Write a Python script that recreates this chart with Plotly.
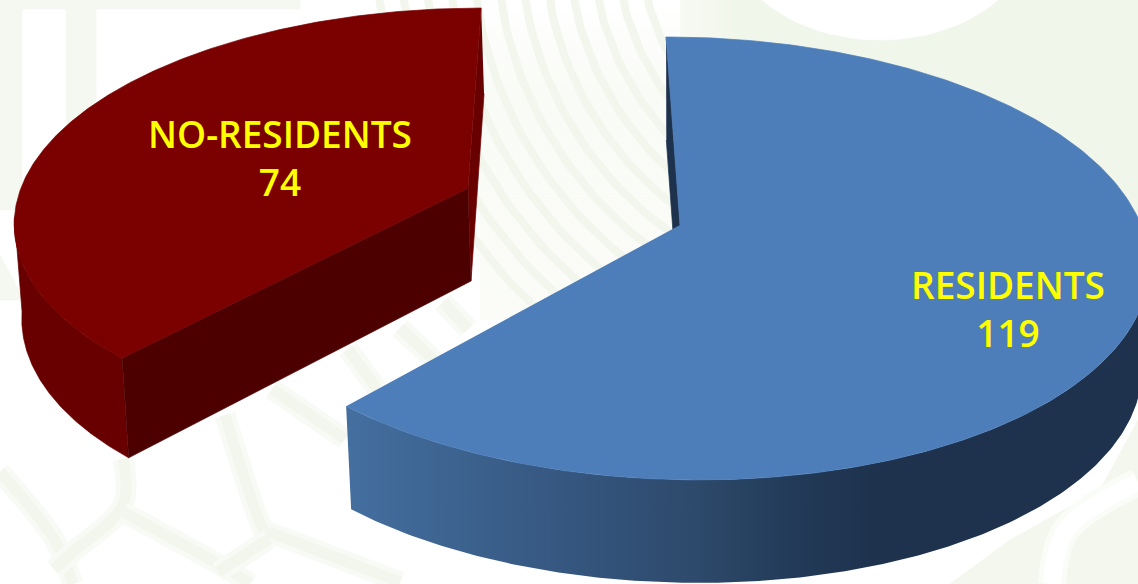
import numpy as np
import plotly.graph_objects as go

# Chart data
categories = ["RESIDENTS", "NO-RESIDENTS"]
values = [119, 74]

START_DEG = 0.0
TOP_BLUE, TOP_RED = "#4d7eba", "#7b0000"
PALE = "#f2f6ec"
HALO = "#f8faf5"
TEXT = "#ffff00"

# Perspective parameters for each exploded slice of the tilted disc
SLICES = {
    "RESIDENTS": dict(x0=680, y0=225, a=461, b=216.4, k=0.151, lean=-16,
                      dx=0, dy=103, sx=0.985, sy=1.0),
    "NO-RESIDENTS": dict(x0=468, y0=188, a=447, b=205, k=0.139, lean=15,
                         dx=3, dy=93, sx=0.99, sy=1.04),
}


def project(p, deg, bottom=False):
    """Map a rim angle (clockwise from the far side) on to the page."""
    t = np.radians(deg)
    u, v = np.sin(t), np.cos(t)
    w = 1 + p["k"] * v
    sx = p["sx"] if bottom else 1.0
    sy = p["sy"] if bottom else 1.0
    x = p["x0"] + sx * (p["a"] * u + p["lean"] * v) / w + (p["dx"] if bottom else 0)
    y = p["y0"] - sy * p["b"] * v / w + (p["dy"] if bottom else 0)
    return x, y


def apex(p, bottom=False):
    if bottom:
        return p["x0"] + p["dx"], p["y0"] + p["dy"]
    return p["x0"], p["y0"]


def poly(xs, ys, color=None, **kw):
    if color:
        style = dict(fillcolor=color, line=dict(width=0.7, color=color))
    else:
        style = dict(line=dict(width=0))
    return go.Scatter(x=list(xs), y=list(ys), mode="lines", fill="toself",
                      hoverinfo="skip", showlegend=False, **style, **kw)


def band(pts, width=11, color=PALE, halo=HALO):
    """A soft watermark stroke: a wide faint line under a narrower one."""
    xs, ys = zip(*pts)
    out = []
    for w, c in ((width + 10, halo), (width, color)):
        out.append(go.Scatter(x=xs, y=ys, mode="lines", hoverinfo="skip",
                              showlegend=False,
                              line=dict(color=c, width=w, shape="spline")))
    return out


def arc_band(cx, cy, r, a0, a1, width=8, color=PALE):
    t = np.radians(np.linspace(a0, a1, 60))
    return go.Scatter(x=cx + r * np.cos(t), y=cy + r * np.sin(t), mode="lines",
                      hoverinfo="skip", showlegend=False,
                      line=dict(color=color, width=width))


traces = []

# Watermark behind the chart: pale fields, concentric rings and a lattice
traces.append(poly([740, 1138, 1138, 1000, 740], [0, 0, 300, 240, 60], "#f1f6ea"))
traces.append(poly([600, 740, 740, 600], [0, 0, 70, 70],
                   fillgradient=dict(type="horizontal", colorscale=[
                       [0, "#ffffff"], [1, "#f1f6ea"]])))
traces.append(poly([480, 680, 680, 560, 480], [0, 0, 240, 320, 320],
                   fillgradient=dict(type="vertical", colorscale=[
                       [0, "#fbfcf8"], [0.7, "#f9fbf6"], [1, "#ffffff"]])))
traces.append(poly([0, 22, 22, 0], [0, 0, 210, 210], "#f5f8f1"))
traces.append(poly([22, 300, 300, 22], [0, 0, 9, 9], "#f5f8f1"))
traces.append(poly([66, 96, 96, 66], [0, 0, 170, 170], "#f5f8f1"))
traces.append(poly([1138, 1100, 1010, 950, 1138], [420, 490, 540, 584, 584], "#f3f7ed"))
traces.extend(band([(1138, 482), (1066, 530), (1052, 584)], 18, "#ffffff", "#fafcf7"))
traces.append(poly([0, 24, 0], [255, 300, 300], "#f5f8f1"))
t_disc = np.radians(np.linspace(0, 360, 80))
traces.append(poly(880 + 150 * np.cos(t_disc), -65 + 105 * np.sin(t_disc), "#ffffff"))
for r in range(240, 520, 24):
    traces.append(arc_band(880, -60, r, 95, 180))
for pts in [
    [(0, 472), (54, 539), (73, 584)],
    [(123, 459), (123, 505), (73, 552), (54, 569)],
    [(123, 512), (232, 572), (250, 584)],
    [(225, 415), (261, 525), (269, 539)],
    [(272, 389), (345, 439)],
    [(348, 349), (377, 389)],
    [(400, 328), (436, 362)],
    [(443, 302), (468, 329)],
    [(269, 532), (400, 582)],
    [(269, 539), (218, 572)],
]:
    traces.extend(band(pts))

# Angular spans follow the values
total = sum(values)
blue_end = START_DEG + 360 * values[0] / total
red_end = START_DEG + 360
pb, pr = SLICES["RESIDENTS"], SLICES["NO-RESIDENTS"]

# Far radial wall of the large slice
bx0, by0 = project(pb, START_DEG)
bx1, by1 = project(pb, START_DEG, bottom=True)
ax0, ay0 = apex(pb)
ax1, ay1 = apex(pb, bottom=True)
traces.append(poly([bx0, ax0, ax1, bx1], [by0, ay0, ay1, by1], "#1e324d"))

# Outer rim of the large slice, shaded from left to right
deg = np.linspace(START_DEG + 95, blue_end, 200)
xt, yt = project(pb, deg)
xb, yb = project(pb, deg, bottom=True)
traces.append(poly(np.r_[xt, xb[::-1]], np.r_[yt, yb[::-1]],
                   fillgradient=dict(type="horizontal", colorscale=[
                       [0.0, "#446f9f"], [0.28, "#35567f"], [0.43, "#2e4a6c"],
                       [0.56, "#223a58"], [0.66, "#1e324d"], [1.0, "#1e324d"]])))

# Top face of the large slice
deg = np.linspace(START_DEG, blue_end, 300)
xt, yt = project(pb, deg)
traces.append(poly(np.r_[ax0, xt], np.r_[ay0, yt], TOP_BLUE))

# Walls of the small slice
rx0, ry0 = project(pr, red_end)
rx1, ry1 = project(pr, red_end, bottom=True)
cx0, cy0 = apex(pr)
cx1, cy1 = apex(pr, bottom=True)
traces.append(poly([rx0, cx0, cx1, rx1], [ry0, cy0, cy1, ry1], "#680000"))

deg = np.linspace(blue_end, 262, 120)
xt, yt = project(pr, deg)
xb, yb = project(pr, deg, bottom=True)
traces.append(poly(np.r_[xt, xb[::-1]], np.r_[yt, yb[::-1]], "#680000"))

nx0, ny0 = project(pr, blue_end)
nx1, ny1 = project(pr, blue_end, bottom=True)
traces.append(poly([cx0, nx0, nx1, cx1], [cy0, ny0, ny1, cy1], "#4d0000"))

# Top face of the small slice
deg = np.linspace(blue_end, red_end, 300)
xt, yt = project(pr, deg)
traces.append(poly(np.r_[cx0, xt], np.r_[cy0, yt], TOP_RED))

# Name and value labels on the top faces
label_pos = {"RESIDENTS": (1008, 314), "NO-RESIDENTS": (280, 163)}
for name, val in zip(categories, values):
    lx, ly = label_pos[name]
    traces.append(go.Scatter(
        x=[lx], y=[ly], mode="text", text=[f"{name}<br>{val}"],
        textposition="middle center", hoverinfo="skip", showlegend=False,
        textfont=dict(family="Open Sans, Noto Sans, sans-serif", size=37,
                      color=TEXT, weight=600),
    ))

fig = go.Figure(traces)
fig.update_layout(
    width=1138, height=584, autosize=False,
    margin=dict(l=0, r=0, t=0, b=0),
    paper_bgcolor="#ffffff", plot_bgcolor="#ffffff",
    showlegend=False,
    xaxis=dict(range=[0, 1138], visible=False, fixedrange=True),
    yaxis=dict(range=[584, 0], visible=False, fixedrange=True),
)
fig.write_html("out.html", config=dict(displayModeBar=False))
